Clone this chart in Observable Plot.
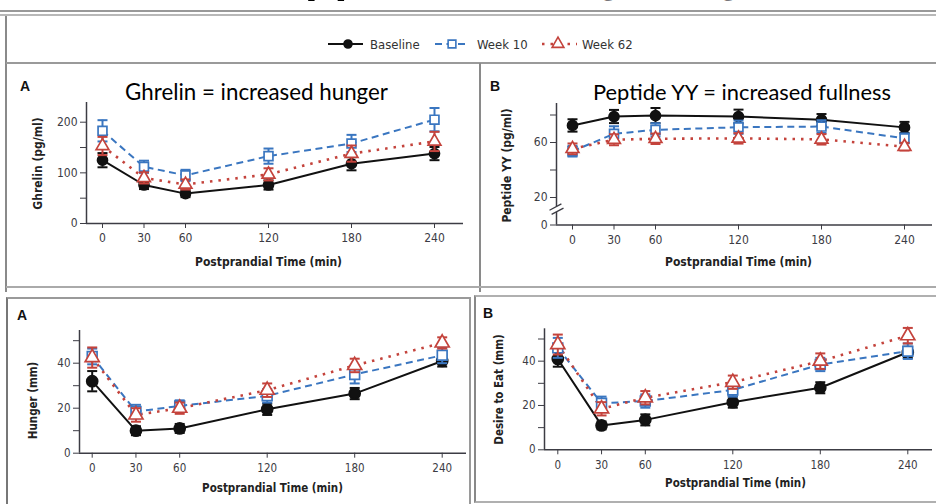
<!DOCTYPE html>
<html><head><meta charset="utf-8">
<script src="https://cdn.jsdelivr.net/npm/d3@7"></script>
<script src="https://cdn.jsdelivr.net/npm/@observablehq/plot@0.6"></script>
<style>
body{margin:0;background:#fff;}
#root{position:relative;width:936px;height:504px;overflow:hidden;background:#fff;}
.ln{position:absolute;}
.lbl{position:absolute;white-space:nowrap;transform:translate(-50%,-50%);line-height:1;}
svg{overflow:visible;}
</style></head><body><div id="root"></div>
<script>
// ---------------- data ----------------
const times = [0, 30, 60, 120, 180, 240];
const seriesNames = ["Baseline", "Week 10", "Week 62"];

const ghrelinBaseline = [125, 76, 59, 76, 118, 138];
const ghrelinBaselineErr = [14, 8, 7, 9, 13, 13];
const ghrelinWeek10 = [183, 112, 95, 133, 158, 205];
const ghrelinWeek10Err = [21, 12, 11, 15, 17, 23];
const ghrelinWeek62 = [153, 90, 77, 97, 138, 162];
const ghrelinWeek62Err = [18, 11, 10, 12, 16, 19];

const pyyBaseline = [72.4, 78.9, 79.6, 78.9, 76.5, 71];
const pyyBaselineErr = [4.5, 4.8, 5.5, 5, 4.2, 4];
const pyyWeek10 = [53.7, 66.3, 69.2, 71.1, 71.6, 63];
const pyyWeek10Err = [3.9, 5.5, 4.8, 4.8, 4.6, 3.6];
const pyyWeek62 = [55.4, 62, 62.7, 63, 62.3, 57];
const pyyWeek62Err = [3.9, 4, 3.8, 3.8, 3.8, 2.8];

const hungerBaseline = [32, 10, 11, 19.5, 26.5, 41];
const hungerBaselineErr = [4.5, 2, 2, 2.5, 2.5, 2.5];
const hungerWeek10 = [43, 18.5, 21, 25.5, 35, 43.5];
const hungerWeek10Err = [3.5, 3, 2.5, 3, 4, 3.5];
const hungerWeek62 = [42.5, 17, 20, 28, 39, 49];
const hungerWeek62Err = [4.5, 3, 2.5, 3, 3, 2.5];

const desireBaseline = [41, 11, 13.5, 21.5, 28, 44];
const desireBaselineErr = [3.5, 1.8, 2.5, 2.5, 2.5, 2.5];
const desireWeek10 = [46, 21, 22, 27, 38.5, 44.5];
const desireWeek10Err = [4.5, 3, 3, 3, 3, 3.5];
const desireWeek62 = [47.5, 18.5, 23.5, 30.5, 40, 51.5];
const desireWeek62Err = [4.5, 3, 3, 3, 3.5, 3.5];

const ghrelinTicks = [0, 50, 100, 150, 200], ghrelinTickLabels = [0, 100, 200];
const pyyTicks = [0, 20, 40, 60, 80], pyyTickLabels = [0, 20, 60];
const vasTicks = [0, 10, 20, 30, 40, 50], vasTickLabels = [0, 20, 40];

const xLabel = "Postprandial Time (min)";
const titleWords = ["Appetite", "weight regain"];

// ---------------- style ----------------
const NARROW = "'Liberation Sans Narrow','DejaVu Sans Condensed','Liberation Sans',sans-serif";
const TITLEF = "Lato,'Open Sans',sans-serif";
const AXC = "#3c3c44";
const styles = [
  {color: "#111111", dash: null, lw: 2, symbol: "circle", fill: "#111111", rk: 1.0, cap: "butt"},
  {color: "#3a76c0", dash: "7,4.5", lw: 2, symbol: "square", fill: "#ffffff", rk: 1.0, cap: "butt"},
  {color: "#c4433c", dash: "2.5,6", lw: 2.6, symbol: "triangle", fill: "#ffffff", rk: 0.95, cap: "butt"}
];
const hline = {draw(ctx, size) { const r = Math.sqrt(size / Math.PI); ctx.moveTo(-r, 0); ctx.lineTo(r, 0); }};
const slashes = {draw(ctx, size) { const r = Math.sqrt(size / Math.PI);
  ctx.moveTo(-r, r * 0.15); ctx.lineTo(r * 0.7, -r * 0.75);
  ctx.moveTo(-r * 0.7, r * 0.75); ctx.lineTo(r, -r * 0.15); }};

const root = document.getElementById("root");
function div(css, cls) { const d = document.createElement("div"); if (cls) d.className = cls; d.style.cssText = css; root.appendChild(d); return d; }
function label(text, x, y, css) { const d = div(`left:${x}px;top:${y}px;${css}`, "lbl"); d.textContent = text; return d; }

// ---------------- frame lines ----------------
div("left:0;top:10px;width:936px;height:2px;background:#999", "ln");
div("left:0;top:14px;width:936px;height:2px;background:#b8b8b8", "ln");
div("left:5px;top:16px;width:2px;height:276px;background:#8a8a8a", "ln");
div("left:6px;top:62px;width:930px;height:2px;background:#9a9a9a", "ln");
div("left:479px;top:63px;width:2px;height:229px;background:#8a8a8a", "ln");
div("left:6px;top:286px;width:930px;height:2px;background:#aaaaaa", "ln");
div("left:6px;top:297px;width:461px;height:220px;border:2px solid #9a9a9a;border-left-color:#777", "ln");
div("left:474px;top:295px;width:470px;height:204px;border:2px solid #b0b0b0;border-left-color:#888", "ln");

// ---------------- panels ----------------
function drawPanel(p) {
  const k = (p.x240 - p.x0) / 240;
  const xmin = (p.yAxisX - p.x0) / k, xmax = 240 + (p.xEnd - p.x240) / k;
  const yTopVal = (p.y0 - p.yTop) / p.ppu;
  const mL = p.yAxisX - p.left, mR = p.left + p.width - p.xEnd;
  const mT = p.yTop - p.top, mB = p.top + p.height - p.y0;
  const marks = [];
  const rowsAll = p.series.map(s => times.map((t, j) => ({t, v: s[0][j], e: s[1][j]})));
  rowsAll.forEach((rows, i) => {
    const st = styles[i];
    marks.push(Plot.line(rows, {x: "t", y: "v", stroke: st.color, strokeWidth: st.lw, strokeDasharray: st.dash, strokeLinecap: st.cap}));
  });
  marks.push(Plot.ruleY([0], {stroke: AXC, strokeWidth: 1.5}));
  marks.push(Plot.ruleX([xmin], {stroke: AXC, strokeWidth: 1.5}));
  if (p.breakAt != null) {
    marks.push(Plot.dot([p.breakAt], {x: () => xmin, y: d => d, symbol: "square", r: 3.2, fill: "#fff", stroke: "none"}));
    marks.push(Plot.dot([p.breakAt], {x: () => xmin, y: d => d, symbol: slashes, r: 7, fill: "none", stroke: AXC, strokeWidth: 1.3}));
  }
  marks.push(Plot.axisY({ticks: p.yTicks, tickSize: 6, tickPadding: 3, tickFormat: d => p.yLabels.includes(d) ? String(d) : "", label: null, fontSize: p.tickFs}));
  marks.push(Plot.axisX({ticks: times, tickSize: 5, tickPadding: p.xPad, tickFormat: d => String(d), label: null, fontSize: p.tickFs}));
  rowsAll.forEach((rows, i) => {
    const st = styles[i];
    marks.push(Plot.ruleX(rows, {x: "t", y1: d => d.v - d.e, y2: d => d.v + d.e, stroke: st.color, strokeWidth: 2}));
    marks.push(Plot.dot(rows, {x: "t", y: d => d.v + d.e, symbol: hline, r: p.capR, fill: "none", stroke: st.color, strokeWidth: 2}));
    marks.push(Plot.dot(rows, {x: "t", y: d => d.v - d.e, symbol: hline, r: p.capR, fill: "none", stroke: st.color, strokeWidth: 2}));
    marks.push(Plot.dot(rows, {x: "t", y: "v", symbol: st.symbol, r: p.mR * st.rk, fill: st.fill, stroke: st.color, strokeWidth: 1.7}));
  });
  // axis titles
  marks.push(Plot.text([p.ylabel], {text: d => d, frameAnchor: "left", rotate: -90, dx: p.ylx - p.yAxisX, dy: p.yly - (p.yTop + p.y0) / 2,
    fontWeight: "bold", fontSize: p.labFs, fill: "#222", lineAnchor: "middle", textAnchor: "middle"}));
  marks.push(Plot.text([xLabel], {text: d => d, frameAnchor: "bottom", dx: p.xlx - (p.yAxisX + p.xEnd) / 2, dy: p.xly - p.y0,
    fontWeight: "bold", fontSize: p.labFs, fill: "#222", lineAnchor: "middle", textAnchor: "middle"}));
  const svg = Plot.plot({
    width: p.width, height: p.height,
    marginLeft: mL, marginRight: mR, marginTop: mT, marginBottom: mB,
    x: {domain: [xmin, xmax]}, y: {domain: [0, yTopVal]},
    style: {fontFamily: NARROW, color: AXC, background: "transparent", overflow: "visible"},
    marks
  });
  svg.style.position = "absolute"; svg.style.left = p.left + "px"; svg.style.top = p.top + "px";
  root.appendChild(svg);
}

drawPanel({left: 8, top: 64, width: 470, height: 220, yAxisX: 86, y0: 223, yTop: 102, ppu: 0.5065,
  x0: 102, x240: 434, xEnd: 463, yTicks: ghrelinTicks, yLabels: ghrelinTickLabels, tickFs: 12, labFs: 12, xPad: 5,
  capR: 5, mR: 5, ylabel: "Ghrelin (pg/ml)", ylx: 38, yly: 163, xlx: 268, xly: 262,
  series: [[ghrelinBaseline, ghrelinBaselineErr], [ghrelinWeek10, ghrelinWeek10Err], [ghrelinWeek62, ghrelinWeek62Err]]});

drawPanel({left: 482, top: 64, width: 454, height: 220, yAxisX: 556, y0: 224.5, yTop: 103, ppu: 1.375,
  x0: 572, x240: 904, xEnd: 932, yTicks: pyyTicks, yLabels: pyyTickLabels, tickFs: 12, labFs: 12, xPad: 5,
  capR: 5, mR: 5, ylabel: "Peptide YY (pg/ml)", ylx: 507, yly: 165, xlx: 738, xly: 262, breakAt: 11.5,
  series: [[pyyBaseline, pyyBaselineErr], [pyyWeek10, pyyWeek10Err], [pyyWeek62, pyyWeek62Err]]});

drawPanel({left: 8, top: 300, width: 460, height: 200, yAxisX: 79, y0: 452.7, yTop: 330, ppu: 2.25,
  x0: 91.7, x240: 441.7, xEnd: 466, yTicks: vasTicks, yLabels: vasTickLabels, tickFs: 11.5, labFs: 11.5, xPad: 6,
  capR: 5, mR: 5.5, ylabel: "Hunger (mm)", ylx: 33, yly: 400, xlx: 272, xly: 488,
  series: [[hungerBaseline, hungerBaselineErr], [hungerWeek10, hungerWeek10Err], [hungerWeek62, hungerWeek62Err]]});

drawPanel({left: 476, top: 298, width: 458, height: 200, yAxisX: 544, y0: 449.3, yTop: 328.3, ppu: 2.216,
  x0: 557.3, x240: 907.3, xEnd: 932, yTicks: vasTicks, yLabels: vasTickLabels, tickFs: 11.5, labFs: 11.5, xPad: 6,
  capR: 5, mR: 5.5, ylabel: "Desire to Eat (mm)", ylx: 499, yly: 389, xlx: 735, xly: 483,
  series: [[desireBaseline, desireBaselineErr], [desireWeek10, desireWeek10Err], [desireWeek62, desireWeek62Err]]});

// ---------------- panel letters & titles ----------------
const letterCss = "font-family:'Liberation Sans',sans-serif;font-weight:bold;font-size:14px;color:#111";
label("A", 25, 86, letterCss); label("B", 495, 86, letterCss);
label("A", 22, 315, letterCss); label("B", 488, 313, letterCss);
function fitLabel(text, x0, x1, y, css) {
  const d = label(text, (x0 + x1) / 2, y, css);
  const w = d.getBoundingClientRect().width;
  const fs = parseFloat(getComputedStyle(d).fontSize);
  d.style.fontSize = (fs * (x1 - x0) / w) + "px";
  return d;
}
fitLabel("Ghrelin = increased hunger", 125, 388, 92, `font-family:${TITLEF};font-size:20px;color:#000`);
fitLabel("Peptide YY = increased fullness", 593, 891, 92, `font-family:${TITLEF};font-size:20px;color:#000`);

// ---------------- legend ----------------
const lg = d3.select(root).append("svg").attr("width", 936).attr("height", 60)
  .style("position", "absolute").style("left", "0px").style("top", "0px");
const legendPos = [{l0: 328, l1: 363, m: 348, t: 370}, {l0: 435, l1: 467, m: 452, t: 477}, {l0: 542, l1: 577, m: 558, t: 582}];
const legendSym = [d3.symbolCircle, d3.symbolSquare, d3.symbolTriangle];
const legendSize = [50, 60, 60];
seriesNames.forEach((name, i) => {
  const st = styles[i], pp = legendPos[i];
  lg.append("line").attr("x1", pp.l0).attr("x2", pp.l1).attr("y1", 44).attr("y2", 44)
    .attr("stroke", st.color).attr("stroke-width", st.lw).attr("stroke-dasharray", st.dash);
  lg.append("path").attr("d", d3.symbol(legendSym[i], legendSize[i])()).attr("transform", `translate(${pp.m},44)`)
    .attr("fill", st.fill).attr("stroke", st.color).attr("stroke-width", 1.6);
  lg.append("text").attr("x", pp.t).attr("y", 44).attr("dy", "0.35em").attr("font-family", NARROW)
    .attr("font-size", 13).attr("fill", "#333").text(name);
});

// ---------------- clipped page title (only descenders visible, as in the reference) ----------------
const tsvg = d3.select(root).append("svg").attr("width", 936).attr("height", 10)
  .style("position", "absolute").style("left", "0px").style("top", "0px").style("overflow", "hidden");
const t1 = tsvg.append("text").attr("x", 0).attr("y", -8).attr("font-family", TITLEF).attr("font-weight", "bold").attr("font-size", 50).text(titleWords[0]);
const t2 = tsvg.append("text").attr("x", 0).attr("y", -8).attr("font-family", TITLEF).attr("font-weight", "bold").attr("font-size", 50).text(titleWords[1]);
try {
  const n1 = t1.node(); const a1 = n1.getStartPositionOfChar(1).x, b1 = n1.getStartPositionOfChar(2).x;
  const fs1 = 50 * 29.5 / (b1 - a1); t1.attr("font-size", fs1);
  t1.attr("x", 305 - n1.getStartPositionOfChar(1).x);
  const n2 = t2.node(); const a2 = n2.getStartPositionOfChar(3).x, b2 = n2.getStartPositionOfChar(9).x;
  const fs2 = 50 * 120 / (b2 - a2); t2.attr("font-size", fs2);
  t2.attr("x", 597 - n2.getStartPositionOfChar(3).x);
} catch (e) {}
</script></body></html>
